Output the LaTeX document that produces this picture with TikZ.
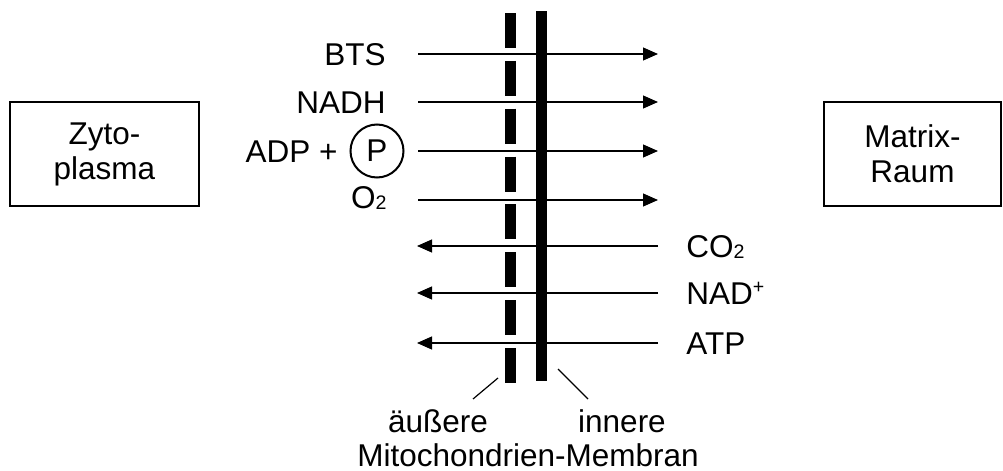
\documentclass[tikz,border=0pt]{standalone}
\usepackage{fontspec}
\setmainfont{Liberation Sans}
\usetikzlibrary{arrows.meta}
\newcommand{\subidx}[1]{\raisebox{-0.6pt}{\fontsize{9.8}{10}\selectfont #1}}
\newcommand{\supidx}[1]{\raisebox{5.4pt}{\fontsize{9.8}{10}\selectfont #1}}

\begin{document}
\begin{tikzpicture}[
  x=0.5pt, y=-0.5pt, font=\fontsize{15.75}{17.5}\selectfont,
  >={Triangle[length=7.5pt, width=6.5pt]},
  room/.style={draw, line width=0.6pt, align=center, inner sep=0pt,
               minimum width=94.5pt, minimum height=52pt},
  ar/.style={->, line width=0.6pt},
  lin/.style={inner sep=0pt, anchor=base east},
  rin/.style={inner sep=0pt, anchor=base west},
  phos/.style={draw, circle, line width=1pt, inner sep=0pt, minimum size=26.5pt},
]
\useasboundingbox (0,0) rectangle (1003,471);

% compartments
\node[room] (zyto) at (104.5,154) {Zyto-\\plasma};
\node[room, minimum width=88.5pt] (matrix) at (912.5,154) {Matrix-\\Raum};

% membranes
\draw[line width=5.5pt, dash pattern=on 17.5pt off 6.43pt] (510,13) coordinate (aus-top) -- (510,383) coordinate (aus-bot);
\draw[line width=5.5pt] (541.5,11) coordinate (inn-top) -- (541.5,381) coordinate (inn-bot);

% import into matrix
\node[lin] (bts)  at (386,65)  {BTS};
\node[lin] (nadh) at (386,113) {NADH};
\node[phos] (p)   at (377,151) {P};
\node[lin] (adp)  at (338,162) {ADP +};
\node[lin] (ox)   at (387,208) {O\subidx{2}};
\foreach \y/\n in {54/bts, 102/nadh, 151/adp, 200/ox} {
  \coordinate (\n-a) at (418,\y);
  \coordinate (\n-b) at (658,\y);
  \draw[ar] (\n-a) -- (\n-b);
}

% export into cytoplasm
\node[rin] (co)  at (686,257) {CO\subidx{2}};
\node[rin] (nad) at (686,304) {NAD\supidx{+}};
\node[rin] (atp) at (686,354) {ATP};
\foreach \y/\n in {246/co, 293/nad, 343/atp} {
  \coordinate (\n-a) at (658,\y);
  \coordinate (\n-b) at (417,\y);
  \draw[ar] (\n-a) -- (\n-b);
}

% membrane labels
\node[inner sep=0pt, anchor=base] (aussen) at (438,432) {äußere};
\node[inner sep=0pt, anchor=base] (innen)  at (622,432) {innere};
\node[inner sep=0pt, anchor=base] (mem)    at (528,466) {Mitochondrien-Membran};
\coordinate (aus-pt) at (498,378);
\coordinate (aus-ft) at (473,399);
\coordinate (inn-pt) at (558,369);
\coordinate (inn-ft) at (588,399);
\draw[line width=0.6pt] (aus-pt) -- (aus-ft);
\draw[line width=0.6pt] (inn-pt) -- (inn-ft);
\end{tikzpicture}
\end{document}
